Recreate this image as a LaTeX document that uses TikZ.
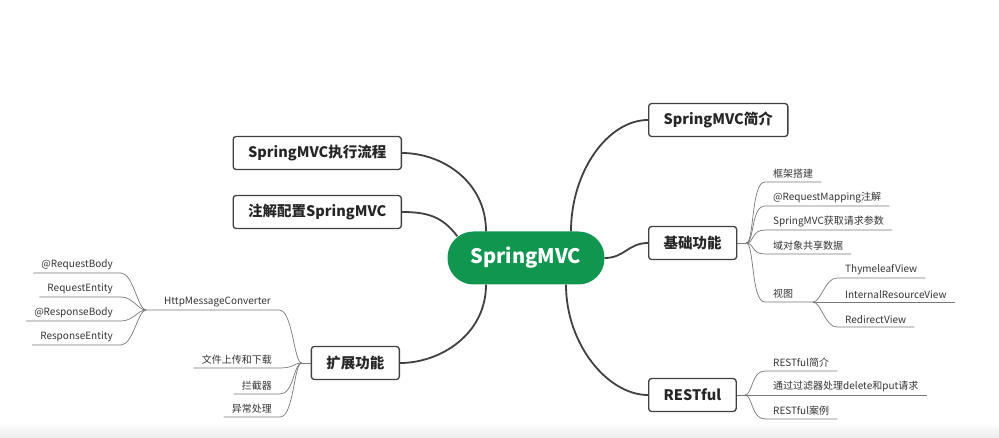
\documentclass[tikz,border=0pt]{standalone}
\usepackage{fontspec}
\setmainfont{Noto Sans CJK SC}
\usepackage{tikz}
\usetikzlibrary{positioning,calc}
\definecolor{mvcgreen}{RGB}{17,150,80}
\definecolor{edgegray}{RGB}{64,64,64}
\definecolor{leafgray}{RGB}{120,120,120}
\tikzset{
  mainbox/.style={draw=edgegray, line width=1.3pt, rounded corners=3pt, font=\bfseries\fontsize{14.5}{17}\selectfont, minimum height=33pt, inner xsep=15pt, text=black!85},
  trunk/.style={draw=edgegray, line width=1.8pt},
  twig/.style={draw=leafgray, line width=0.7pt},
  leaf/.style={font=\fontsize{10}{12}\selectfont, inner xsep=8pt, inner ysep=3pt, text=black!80},
}
\begin{document}
\begin{tikzpicture}[x=1pt,y=-1pt]
  \useasboundingbox (0,0) rectangle (999,438);
  \shade[top color=white, bottom color=black!7] (0,422) rectangle (999,438);
  % centre and main branches
  \node[fill=mvcgreen, rounded corners=26pt, minimum width=157pt, minimum height=53pt, text=white, font=\bfseries\fontsize{20}{24}\selectfont] (root) at (526,258) {SpringMVC};
  \node[mainbox, anchor=west] (intro) at (648,120) {SpringMVC简介};
  \node[mainbox, anchor=west] (basic) at (648,243) {基础功能};
  \node[mainbox, anchor=west] (rest) at (648,395) {RESTful};
  \node[mainbox, anchor=east] (flow) at (402,153) {SpringMVC执行流程};
  \node[mainbox, anchor=east] (anno) at (402,212) {注解配置SpringMVC};
  \node[mainbox, anchor=east] (ext) at (400,363) {扩展功能};
  \draw[trunk] ([xshift=45pt]root.north) .. controls +(0,-60) and +(-40,0) .. (intro.west);
  \draw[trunk] (root.east) .. controls +(20,0) and +(-20,0) .. (basic.west);
  \draw[trunk] ([xshift=40pt]root.south) .. controls +(0,60) and +(-40,0) .. (rest.west);
  \draw[trunk] ([xshift=-40pt]root.north) .. controls +(0,-50) and +(40,0) .. (flow.east);
  \draw[trunk] ([xshift=10pt,yshift=-5pt]root.north west) .. controls +(-15,-20) and +(25,0) .. (anno.east);
  \draw[trunk] ([xshift=-40pt]root.south) .. controls +(0,50) and +(40,0) .. (ext.east);

  % basic functions
  \coordinate (bfork) at ($(basic.east)+(9,0)$);
  \draw[twig] (basic.east) -- (bfork);
  \node[leaf, anchor=south west] (k1) at (765,182) {框架搭建};
  \node[leaf, anchor=south west] (k2) at (765,206) {@RequestMapping注解};
  \node[leaf, anchor=south west] (k3) at (765,230) {SpringMVC获取请求参数};
  \node[leaf, anchor=south west] (k4) at (765,254) {域对象共享数据};
  \node[leaf, anchor=south west] (k5) at (765,302) {视图};
  \coordinate (vfork) at (813,302);
  \draw[twig] (bfork) .. controls +(8,0) and +(-14,0) .. (k1.south west) -- (k1.south east);
  \draw[twig] (bfork) .. controls +(8,0) and +(-14,0) .. (k2.south west) -- (k2.south east);
  \draw[twig] (bfork) .. controls +(8,0) and +(-14,0) .. (k3.south west) -- (k3.south east);
  \draw[twig] (bfork) .. controls +(8,0) and +(-14,0) .. (k4.south west) -- (k4.south east);
  \draw[twig] (bfork) .. controls +(8,0) and +(-14,0) .. (k5.south west) -- (vfork);
  \node[leaf, anchor=south west] (v1) at (837,278) {ThymeleafView};
  \node[leaf, anchor=south west] (v2) at (837,302) {InternalResourceView};
  \node[leaf, anchor=south west] (v3) at (837,327) {RedirectView};
  \draw[twig] (vfork) .. controls +(8,0) and +(-12,0) .. (v1.south west) -- (v1.south east);
  \draw[twig] (vfork) -- (v2.south east);
  \draw[twig] (vfork) .. controls +(8,0) and +(-12,0) .. (v3.south west) -- (v3.south east);

  % restful
  \coordinate (rfork) at ($(rest.east)+(8,0)$);
  \draw[twig] (rest.east) -- (rfork);
  \node[leaf, anchor=south west] (r1) at (765,371) {RESTful简介};
  \node[leaf, anchor=south west] (r2) at (765,395) {通过过滤器处理delete和put请求};
  \node[leaf, anchor=south west] (r3) at (765,419) {RESTful案例};
  \draw[twig] (rfork) .. controls +(8,0) and +(-14,0) .. (r1.south west) -- (r1.south east);
  \draw[twig] (rfork) -- (r2.south east);
  \draw[twig] (rfork) .. controls +(8,0) and +(-14,0) .. (r3.south west) -- (r3.south east);

  % extensions
  \coordinate (efork) at ($(ext.west)+(-9,0)$);
  \draw[twig] (ext.west) -- (efork);
  \node[leaf, anchor=south east] (e1) at (279,310) {HttpMessageConverter};
  \node[leaf, anchor=south east] (e2) at (280,368) {文件上传和下载};
  \node[leaf, anchor=south east] (e3) at (280,394) {拦截器};
  \node[leaf, anchor=south east] (e4) at (280,417) {异常处理};
  \coordinate (hfork) at (146,310);
  \draw[twig] (efork) .. controls +(-8,0) and +(14,0) .. (e1.south east) -- (hfork);
  \draw[twig] (efork) .. controls +(-8,0) and +(14,0) .. (e2.south east) -- (e2.south west);
  \draw[twig] (efork) .. controls +(-8,0) and +(14,0) .. (e3.south east) -- (e3.south west);
  \draw[twig] (efork) .. controls +(-8,0) and +(14,0) .. (e4.south east) -- (e4.south west);
  \node[leaf, anchor=south east] (h1) at (121,273) {@RequestBody};
  \node[leaf, anchor=south east] (h2) at (121,297) {RequestEntity};
  \node[leaf, anchor=south east] (h3) at (121,321) {@ResponseBody};
  \node[leaf, anchor=south east] (h4) at (121,345) {ResponseEntity};
  \draw[twig] (hfork) .. controls +(-8,0) and +(12,0) .. (h1.south east) -- (h1.south west);
  \draw[twig] (hfork) .. controls +(-8,0) and +(12,0) .. (h2.south east) -- (h2.south west);
  \draw[twig] (hfork) .. controls +(-8,0) and +(12,0) .. (h3.south east) -- (h3.south west);
  \draw[twig] (hfork) .. controls +(-8,0) and +(12,0) .. (h4.south east) -- (h4.south west);
\end{tikzpicture}
\end{document}
